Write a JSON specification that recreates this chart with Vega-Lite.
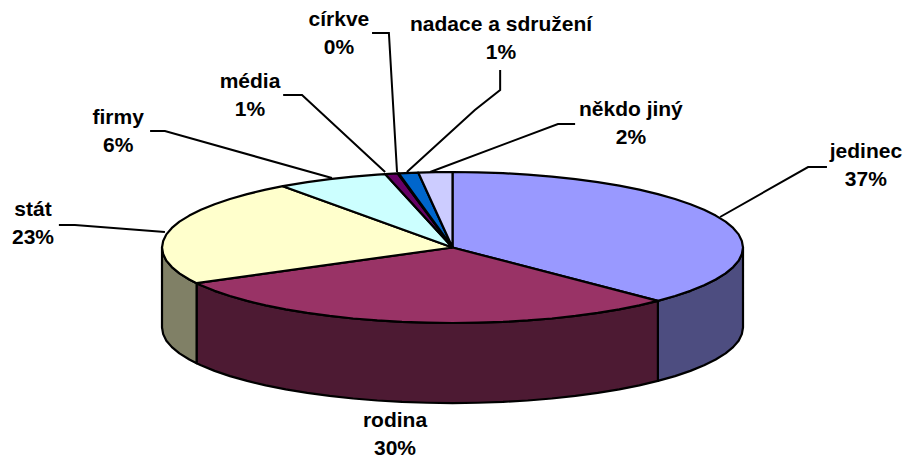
{"$schema":"https://vega.github.io/schema/vega-lite/v6.json","width":904,"height":459,"padding":0,"autosize":{"type":"none"},"background":"white","config":{"view":{"stroke":null}},
"datasets":{"parts":[
{"part":"jedinec bok","n":1,"x":100,"y":0},{"part":"jedinec bok","n":2,"x":99.6,"y":-8.7},{"part":"jedinec bok","n":3,"x":98.5,"y":-17.4},{"part":"jedinec bok","n":4,"x":96.6,"y":-25.9},{"part":"jedinec bok","n":5,"x":94,"y":-34.2},{"part":"jedinec bok","n":6,"x":90.6,"y":-42.3},{"part":"jedinec bok","n":7,"x":86.6,"y":-50},{"part":"jedinec bok","n":8,"x":81.9,"y":-57.4},{"part":"jedinec bok","n":9,"x":76.6,"y":-64.3},{"part":"jedinec bok","n":10,"x":70.7,"y":-70.7},{"part":"jedinec bok","n":11,"x":70.7,"y":-176.7},{"part":"jedinec bok","n":12,"x":76.6,"y":-170.3},{"part":"jedinec bok","n":13,"x":81.9,"y":-163.4},{"part":"jedinec bok","n":14,"x":86.6,"y":-156},{"part":"jedinec bok","n":15,"x":90.6,"y":-148.3},{"part":"jedinec bok","n":16,"x":94,"y":-140.2},{"part":"jedinec bok","n":17,"x":96.6,"y":-131.9},{"part":"jedinec bok","n":18,"x":98.5,"y":-123.4},{"part":"jedinec bok","n":19,"x":99.6,"y":-114.7},{"part":"jedinec bok","n":20,"x":100,"y":-106},{"part":"jedinec bok","n":21,"x":100,"y":0},
{"part":"rodina bok","n":1,"x":70.7,"y":-70.7},{"part":"rodina bok","n":2,"x":64.3,"y":-76.6},{"part":"rodina bok","n":3,"x":57.4,"y":-81.9},{"part":"rodina bok","n":4,"x":50,"y":-86.6},{"part":"rodina bok","n":5,"x":42.3,"y":-90.6},{"part":"rodina bok","n":6,"x":34.2,"y":-94},{"part":"rodina bok","n":7,"x":25.9,"y":-96.6},{"part":"rodina bok","n":8,"x":17.4,"y":-98.5},{"part":"rodina bok","n":9,"x":8.7,"y":-99.6},{"part":"rodina bok","n":10,"x":0,"y":-100},{"part":"rodina bok","n":11,"x":-8.7,"y":-99.6},{"part":"rodina bok","n":12,"x":-17.4,"y":-98.5},{"part":"rodina bok","n":13,"x":-25.9,"y":-96.6},{"part":"rodina bok","n":14,"x":-34.2,"y":-94},{"part":"rodina bok","n":15,"x":-42.3,"y":-90.6},{"part":"rodina bok","n":16,"x":-50,"y":-86.6},{"part":"rodina bok","n":17,"x":-57.4,"y":-81.9},{"part":"rodina bok","n":18,"x":-64.3,"y":-76.6},{"part":"rodina bok","n":19,"x":-70.7,"y":-70.7},{"part":"rodina bok","n":20,"x":-76.6,"y":-64.3},{"part":"rodina bok","n":21,"x":-81.9,"y":-57.4},{"part":"rodina bok","n":22,"x":-86.6,"y":-50},{"part":"rodina bok","n":23,"x":-88.1,"y":-47.2},{"part":"rodina bok","n":24,"x":-88.1,"y":-153.2},{"part":"rodina bok","n":25,"x":-86.6,"y":-156},{"part":"rodina bok","n":26,"x":-81.9,"y":-163.4},{"part":"rodina bok","n":27,"x":-76.6,"y":-170.3},{"part":"rodina bok","n":28,"x":-70.7,"y":-176.7},{"part":"rodina bok","n":29,"x":-64.3,"y":-182.6},{"part":"rodina bok","n":30,"x":-57.4,"y":-187.9},{"part":"rodina bok","n":31,"x":-50,"y":-192.6},{"part":"rodina bok","n":32,"x":-42.3,"y":-196.6},{"part":"rodina bok","n":33,"x":-34.2,"y":-200},{"part":"rodina bok","n":34,"x":-25.9,"y":-202.6},{"part":"rodina bok","n":35,"x":-17.4,"y":-204.5},{"part":"rodina bok","n":36,"x":-8.7,"y":-205.6},{"part":"rodina bok","n":37,"x":0,"y":-206},{"part":"rodina bok","n":38,"x":8.7,"y":-205.6},{"part":"rodina bok","n":39,"x":17.4,"y":-204.5},{"part":"rodina bok","n":40,"x":25.9,"y":-202.6},{"part":"rodina bok","n":41,"x":34.2,"y":-200},{"part":"rodina bok","n":42,"x":42.3,"y":-196.6},{"part":"rodina bok","n":43,"x":50,"y":-192.6},{"part":"rodina bok","n":44,"x":57.4,"y":-187.9},{"part":"rodina bok","n":45,"x":64.3,"y":-182.6},{"part":"rodina bok","n":46,"x":70.7,"y":-176.7},{"part":"rodina bok","n":47,"x":70.7,"y":-70.7},
{"part":"stát bok","n":1,"x":-88.1,"y":-47.2},{"part":"stát bok","n":2,"x":-90.6,"y":-42.3},{"part":"stát bok","n":3,"x":-94,"y":-34.2},{"part":"stát bok","n":4,"x":-96.6,"y":-25.9},{"part":"stát bok","n":5,"x":-98.5,"y":-17.4},{"part":"stát bok","n":6,"x":-99.6,"y":-8.7},{"part":"stát bok","n":7,"x":-100,"y":0},{"part":"stát bok","n":8,"x":-100,"y":-106},{"part":"stát bok","n":9,"x":-99.6,"y":-114.7},{"part":"stát bok","n":10,"x":-98.5,"y":-123.4},{"part":"stát bok","n":11,"x":-96.6,"y":-131.9},{"part":"stát bok","n":12,"x":-94,"y":-140.2},{"part":"stát bok","n":13,"x":-90.6,"y":-148.3},{"part":"stát bok","n":14,"x":-88.1,"y":-153.2},{"part":"stát bok","n":15,"x":-88.1,"y":-47.2},
{"part":"jedinec","n":0,"x":0,"y":0},{"part":"jedinec","n":1,"x":0,"y":100},{"part":"jedinec","n":2,"x":8.7,"y":99.6},{"part":"jedinec","n":3,"x":17.4,"y":98.5},{"part":"jedinec","n":4,"x":25.9,"y":96.6},{"part":"jedinec","n":5,"x":34.2,"y":94},{"part":"jedinec","n":6,"x":42.3,"y":90.6},{"part":"jedinec","n":7,"x":50,"y":86.6},{"part":"jedinec","n":8,"x":57.4,"y":81.9},{"part":"jedinec","n":9,"x":64.3,"y":76.6},{"part":"jedinec","n":10,"x":70.7,"y":70.7},{"part":"jedinec","n":11,"x":76.6,"y":64.3},{"part":"jedinec","n":12,"x":81.9,"y":57.4},{"part":"jedinec","n":13,"x":86.6,"y":50},{"part":"jedinec","n":14,"x":90.6,"y":42.3},{"part":"jedinec","n":15,"x":94,"y":34.2},{"part":"jedinec","n":16,"x":96.6,"y":25.9},{"part":"jedinec","n":17,"x":98.5,"y":17.4},{"part":"jedinec","n":18,"x":99.6,"y":8.7},{"part":"jedinec","n":19,"x":100,"y":0},{"part":"jedinec","n":20,"x":99.6,"y":-8.7},{"part":"jedinec","n":21,"x":98.5,"y":-17.4},{"part":"jedinec","n":22,"x":96.6,"y":-25.9},{"part":"jedinec","n":23,"x":94,"y":-34.2},{"part":"jedinec","n":24,"x":90.6,"y":-42.3},{"part":"jedinec","n":25,"x":86.6,"y":-50},{"part":"jedinec","n":26,"x":81.9,"y":-57.4},{"part":"jedinec","n":27,"x":76.6,"y":-64.3},{"part":"jedinec","n":28,"x":70.7,"y":-70.7},{"part":"jedinec","n":29,"x":0,"y":0},
{"part":"rodina","n":0,"x":0,"y":0},{"part":"rodina","n":1,"x":70.7,"y":-70.7},{"part":"rodina","n":2,"x":64.3,"y":-76.6},{"part":"rodina","n":3,"x":57.4,"y":-81.9},{"part":"rodina","n":4,"x":50,"y":-86.6},{"part":"rodina","n":5,"x":42.3,"y":-90.6},{"part":"rodina","n":6,"x":34.2,"y":-94},{"part":"rodina","n":7,"x":25.9,"y":-96.6},{"part":"rodina","n":8,"x":17.4,"y":-98.5},{"part":"rodina","n":9,"x":8.7,"y":-99.6},{"part":"rodina","n":10,"x":0,"y":-100},{"part":"rodina","n":11,"x":-8.7,"y":-99.6},{"part":"rodina","n":12,"x":-17.4,"y":-98.5},{"part":"rodina","n":13,"x":-25.9,"y":-96.6},{"part":"rodina","n":14,"x":-34.2,"y":-94},{"part":"rodina","n":15,"x":-42.3,"y":-90.6},{"part":"rodina","n":16,"x":-50,"y":-86.6},{"part":"rodina","n":17,"x":-57.4,"y":-81.9},{"part":"rodina","n":18,"x":-64.3,"y":-76.6},{"part":"rodina","n":19,"x":-70.7,"y":-70.7},{"part":"rodina","n":20,"x":-76.6,"y":-64.3},{"part":"rodina","n":21,"x":-81.9,"y":-57.4},{"part":"rodina","n":22,"x":-86.6,"y":-50},{"part":"rodina","n":23,"x":-88.1,"y":-47.2},{"part":"rodina","n":24,"x":0,"y":0},
{"part":"stát","n":0,"x":0,"y":0},{"part":"stát","n":1,"x":-88.1,"y":-47.2},{"part":"stát","n":2,"x":-90.6,"y":-42.3},{"part":"stát","n":3,"x":-94,"y":-34.2},{"part":"stát","n":4,"x":-96.6,"y":-25.9},{"part":"stát","n":5,"x":-98.5,"y":-17.4},{"part":"stát","n":6,"x":-99.6,"y":-8.7},{"part":"stát","n":7,"x":-100,"y":0},{"part":"stát","n":8,"x":-99.6,"y":8.7},{"part":"stát","n":9,"x":-98.5,"y":17.4},{"part":"stát","n":10,"x":-96.6,"y":25.9},{"part":"stát","n":11,"x":-94,"y":34.2},{"part":"stát","n":12,"x":-90.6,"y":42.3},{"part":"stát","n":13,"x":-86.6,"y":50},{"part":"stát","n":14,"x":-81.9,"y":57.4},{"part":"stát","n":15,"x":-76.6,"y":64.3},{"part":"stát","n":16,"x":-70.7,"y":70.7},{"part":"stát","n":17,"x":-64.3,"y":76.6},{"part":"stát","n":18,"x":-58.4,"y":81.2},{"part":"stát","n":19,"x":0,"y":0},
{"part":"firmy","n":0,"x":0,"y":0},{"part":"firmy","n":1,"x":-58.4,"y":81.2},{"part":"firmy","n":2,"x":-50,"y":86.6},{"part":"firmy","n":3,"x":-42.3,"y":90.6},{"part":"firmy","n":4,"x":-34.2,"y":94},{"part":"firmy","n":5,"x":-25.9,"y":96.6},{"part":"firmy","n":6,"x":-23.2,"y":97.3},{"part":"firmy","n":7,"x":0,"y":0},
{"part":"média","n":0,"x":0,"y":0},{"part":"média","n":1,"x":-23.2,"y":97.3},{"part":"média","n":2,"x":-18.9,"y":98.2},{"part":"média","n":3,"x":0,"y":0},
{"part":"církve","n":0,"x":0,"y":0},{"part":"církve","n":1,"x":-18.9,"y":98.2},{"part":"církve","n":2,"x":-18.5,"y":98.3},{"part":"církve","n":3,"x":0,"y":0},
{"part":"nadace a sdružení","n":0,"x":0,"y":0},{"part":"nadace a sdružení","n":1,"x":-18.5,"y":98.3},{"part":"nadace a sdružení","n":2,"x":-11.8,"y":99.3},{"part":"nadace a sdružení","n":3,"x":0,"y":0},
{"part":"někdo jiný","n":0,"x":0,"y":0},{"part":"někdo jiný","n":1,"x":-11.8,"y":99.3},{"part":"někdo jiný","n":2,"x":-5.8,"y":99.8},{"part":"někdo jiný","n":3,"x":0,"y":100},{"part":"někdo jiný","n":4,"x":0,"y":0}
],
"leaders":[
{"name":"jedinec","n":1,"x":92.1,"y":40.4},{"name":"jedinec","n":2,"x":122.4,"y":106.6},{"name":"jedinec","n":3,"x":128.9,"y":106.6},
{"name":"někdo jiný","n":1,"x":-7.7,"y":100},{"name":"někdo jiný","n":2,"x":36.3,"y":163.6},{"name":"někdo jiný","n":3,"x":42.2,"y":163.6},
{"name":"nadace a sdružení","n":1,"x":-15.7,"y":100},{"name":"nadace a sdružení","n":2,"x":7.7,"y":182.1},{"name":"nadace a sdružení","n":3,"x":16.4,"y":208.6},{"name":"nadace a sdružení","n":4,"x":16.4,"y":235.1},
{"name":"církve","n":1,"x":-19.1,"y":100},{"name":"církve","n":2,"x":-21.9,"y":284.1},{"name":"církve","n":3,"x":-27.7,"y":284.1},
{"name":"média","n":1,"x":-23.2,"y":100},{"name":"média","n":2,"x":-51.8,"y":202},{"name":"média","n":3,"x":-58.3,"y":202},
{"name":"firmy","n":1,"x":-41.5,"y":92},{"name":"firmy","n":2,"x":-99,"y":154.3},{"name":"firmy","n":3,"x":-104.1,"y":154.3},
{"name":"stát","n":1,"x":-99,"y":20.5},{"name":"stát","n":2,"x":-130,"y":29.8},{"name":"stát","n":3,"x":-135.5,"y":29.8}
],
"labels":[
{"label":"církve\n0%","x":-39.1,"y":301.3},{"label":"nadace a sdružení\n1%","x":16.7,"y":294.7},{"label":"někdo jiný\n2%","x":61.4,"y":182.1},{"label":"jedinec\n37%","x":142.3,"y":126.4},{"label":"rodina\n30%","x":-19.8,"y":-229.8},{"label":"stát\n23%","x":-144.4,"y":49.6},{"label":"firmy\n6%","x":-115.1,"y":171.5},{"label":"média\n1%","x":-69.7,"y":219.2}
]},
"layer":[
{"data":{"name":"leaders"},"mark":{"type":"line","stroke":"black","strokeWidth":2,"clip":false},"encoding":{"x":{"field":"x","type":"quantitative","scale":{"domain":[-155.77,155.42],"nice":false,"zero":false},"axis":null},"y":{"field":"y","type":"quantitative","scale":{"domain":[-280.1,327.8],"nice":false,"zero":false},"axis":null},"detail":{"field":"name"},"order":{"field":"n"}}},
{"data":{"name":"parts"},"mark":{"type":"line","stroke":"black","strokeWidth":2.2,"strokeJoin":"round"},"encoding":{"x":{"field":"x","type":"quantitative","scale":{"domain":[-155.77,155.42],"nice":false,"zero":false},"axis":null},"y":{"field":"y","type":"quantitative","scale":{"domain":[-280.1,327.8],"nice":false,"zero":false},"axis":null},"order":{"field":"n"},"fill":{"field":"part","type":"nominal","legend":null,"scale":{"domain":["jedinec bok","rodina bok","stát bok","jedinec","rodina","stát","firmy","média","církve","nadace a sdružení","někdo jiný"],"range":["#4D4D80","#4D1A33","#808066","#9999FF","#993366","#FFFFCC","#CCFFFF","#660066","#FF8080","#0066CC","#CCCCFF"]}}}},
{"data":{"name":"labels"},"mark":{"type":"text","font":"Liberation Sans","fontWeight":"bold","fontSize":21,"lineBreak":"\n","lineHeight":28,"align":"center","baseline":"middle","fill":"black"},"encoding":{"x":{"field":"x","type":"quantitative","scale":{"domain":[-155.77,155.42],"nice":false,"zero":false},"axis":null},"y":{"field":"y","type":"quantitative","scale":{"domain":[-280.1,327.8],"nice":false,"zero":false},"axis":null},"text":{"field":"label"}}}
]}
